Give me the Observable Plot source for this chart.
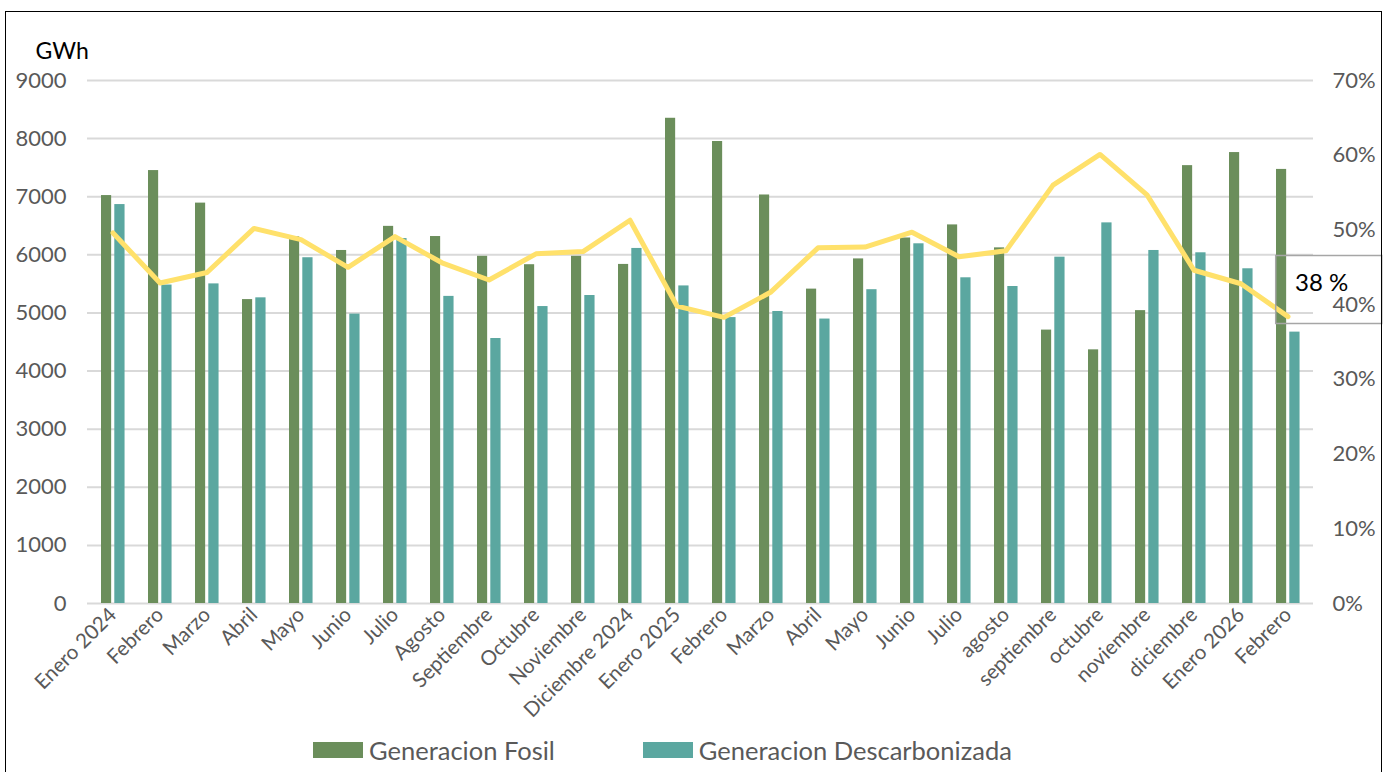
<!DOCTYPE html>
<html>
<head>
<meta charset="utf-8">
<script src="https://cdn.jsdelivr.net/npm/d3@7"></script>
<script src="https://cdn.jsdelivr.net/npm/@observablehq/plot@0.6"></script>
<style>
  html, body { margin: 0; padding: 0; background: #fff; overflow: hidden; }
  #wrap { position: relative; width: 1390px; height: 772px; font-family: Lato, "Open Sans", sans-serif; }
  #border { position: absolute; left: 5px; top: 11px; width: 1377px; height: 800px; border: 1.5px solid #000; box-sizing: border-box; pointer-events: none; }
  #chart { position: absolute; left: 0; top: 0; }
  #legend { position: absolute; left: 313px; top: 735px; display: flex; align-items: center; font-size: 25.5px; color: #595959; }
  .item { display: flex; align-items: center; margin-right: 88px; }
  .sw { width: 50px; height: 16px; margin-right: 6px; }
</style>
</head>
<body>
<div id="wrap">
  <div id="chart"></div>
  <div id="legend"></div>
  <div id="border"></div>
</div>
<script>
const months = ["Enero 2024","Febrero","Marzo","Abril","Mayo","Junio","Julio","Agosto","Septiembre","Octubre","Noviembre","Diciembre 2024","Enero 2025","Febrero","Marzo","Abril","Mayo","Junio","Julio","agosto","septiembre","octubre","noviembre","diciembre","Enero 2026","Febrero"];
const fosil = [7020,7450,6890,5230,6310,6075,6490,6315,5975,5830,5975,5835,8350,7950,7030,5410,5930,6290,6515,6120,4705,4365,5040,7535,7760,7470];
const descarb = [6865,5480,5500,5260,5950,4980,6280,5285,4560,5110,5300,6110,5465,4920,5025,4895,5400,6190,5605,5455,5960,6550,6075,6035,5760,4670];
const share = [49.6,42.9,44.3,50.2,48.7,45.0,49.1,45.6,43.3,46.8,47.1,51.3,39.8,38.3,41.7,47.6,47.7,49.7,46.4,47.2,56.0,60.1,54.7,44.6,42.8,38.4];
const leftTicks = [0,1000,2000,3000,4000,5000,6000,7000,8000,9000];
const rightTicks = [0,10,20,30,40,50,60,70];
const seriesNames = ["Generacion Fosil","Generacion Descarbonizada"];
const colors = { fosil: "#6B8E5B", descarb: "#5BA7A0", line: "#FFE16B", text: "#595959", grid: "#D9D9D9" };

const yMax = 9000, pMax = 70;
const toY = p => p * yMax / pMax;

const rows = months.map((m, i) => ({ i, m, fosil: fosil[i], descarb: descarb[i], share: share[i], shareY: toY(share[i]) }));
const last = rows[rows.length - 1];

// label frame symbol (a plain rectangle around the data label)
const labelBox = { draw(ctx) { ctx.rect(-53, -34, 106, 68); } };

const chart = Plot.plot({
  width: 1390,
  height: 720,
  marginLeft: 87,
  marginRight: 77,
  marginTop: 80,
  marginBottom: 117,
  style: { fontFamily: "Lato, 'Open Sans', sans-serif", color: colors.text, background: "transparent" },
  x: { type: "band", domain: d3.range(months.length), padding: 0 },
  y: { domain: [0, yMax] },
  marks: [
    Plot.gridY(leftTicks, { stroke: colors.grid, strokeOpacity: 1, strokeWidth: 2 }),
    Plot.barY(rows, { x: "i", y: "fosil", fill: colors.fosil, insetLeft: 12, insetRight: 24.85 }),
    Plot.barY(rows, { x: "i", y: "descarb", fill: colors.descarb, insetLeft: 25.3, insetRight: 11.45 }),
    Plot.line(rows, { x: "i", y: "shareY", stroke: colors.line, strokeWidth: 5, strokeLinejoin: "round", strokeLinecap: "round" }),
    Plot.dot([last], { x: "i", y: "shareY", symbol: labelBox, fill: "none", stroke: "#A6A6A6", strokeWidth: 1.5, dx: 40.7, dy: -27 }),
    Plot.axisY(leftTicks, { anchor: "left", tickSize: 0, tickPadding: 21, fontSize: 22, label: null, fill: colors.text, tickFormat: d => String(d) }),
    Plot.axisY(rightTicks.map(toY), { anchor: "right", tickSize: 0, tickPadding: 19, fontSize: 22, label: null, fill: colors.text, tickFormat: v => Math.round(v * pMax / yMax) + "%" }),
    Plot.axisX({ tickSize: 0, tickPadding: 8, tickRotate: -45, fontSize: 20.5, label: null, fill: colors.text, tickFormat: i => months[i] }),
    Plot.text([last], { x: "i", y: "shareY", text: d => Math.round(d.share) + " %", textAnchor: "start", dx: 7, dy: -33, fontSize: 24, fill: "#000" }),
    Plot.text(["GWh"], { frameAnchor: "top-left", dx: -52, dy: -38, fontSize: 23, fill: "#000", textAnchor: "start" })
  ]
});
document.getElementById("chart").appendChild(chart);

const legend = document.getElementById("legend");
[[seriesNames[0], colors.fosil], [seriesNames[1], colors.descarb]].forEach(([name, c]) => {
  const it = document.createElement("div");
  it.className = "item";
  const sw = document.createElement("div");
  sw.className = "sw";
  sw.style.background = c;
  const t = document.createElement("span");
  t.textContent = name;
  it.appendChild(sw);
  it.appendChild(t);
  legend.appendChild(it);
});
</script>
</body>
</html>
